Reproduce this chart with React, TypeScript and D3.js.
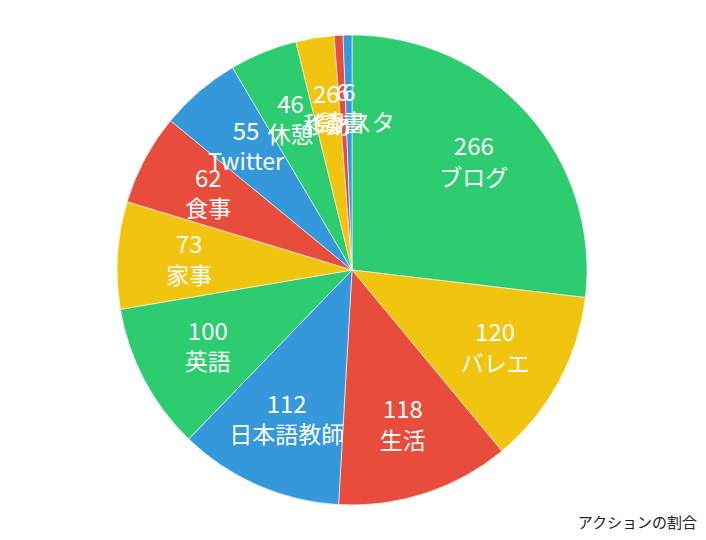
import React, { useEffect, useRef } from 'react';
import * as d3 from 'd3';

const labels = ['ブログ', 'バレエ', '生活', '日本語教師', '英語', '家事', '食事', 'Twitter', '休憩', '移動', '読書', 'インスタ'];
const values = [266, 120, 118, 112, 100, 73, 62, 55, 46, 26, 6, 6];
const palette = ['#2ecc71', '#f1c40f', '#e74c3c', '#3498db'];
const title = 'アクションの割合';

const PieChart = () => {
  const svgRef = useRef<SVGSVGElement>(null);

  useEffect(() => {
    const width = 706;
    const height = 540;
    const cx = 352;
    const cy = 270;
    const radius = 235;

    const svg = d3.select(svgRef.current);
    svg.selectAll('*').remove();
    svg.attr('width', width).attr('height', height);

    const data = labels.map((label, i) => ({ label, value: values[i], i }));

    const pie = d3
      .pie<{ label: string; value: number; i: number }>()
      .value((d) => d.value)
      .sort(null);
    const arcs = pie(data);

    const arc = d3.arc<d3.PieArcDatum<any>>().innerRadius(0).outerRadius(radius);
    const labelArc = d3.arc<d3.PieArcDatum<any>>().innerRadius(163).outerRadius(163);

    const g = svg.append('g').attr('transform', `translate(${cx}, ${cy})`);

    g.selectAll('path')
      .data(arcs)
      .enter()
      .append('path')
      .attr('d', arc)
      .attr('fill', (d) => palette[d.data.i % palette.length])
      .attr('stroke', '#fff')
      .attr('stroke-width', 0.6);

    const font = '"Noto Sans CJK JP", "Noto Sans", sans-serif';
    const labelsG = g.selectAll('g.lbl').data(arcs).enter().append('g').attr('class', 'lbl');
    labelsG.each(function (d) {
      const [x, y] = labelArc.centroid(d);
      const sel = d3.select(this);
      sel
        .append('text')
        .attr('x', x)
        .attr('y', y - 17)
        .attr('text-anchor', 'middle')
        .attr('dominant-baseline', 'central')
        .attr('fill', '#fff')
        .attr('font-size', '24px')
        .attr('font-family', font)
        .text(d.data.value);
      sel
        .append('text')
        .attr('x', x)
        .attr('y', y + 14)
        .attr('text-anchor', 'middle')
        .attr('dominant-baseline', 'central')
        .attr('fill', '#fff')
        .attr('font-size', '23px')
        .attr('font-family', font)
        .text(d.data.label);
    });

    // title (bottom right)
    svg
      .append('text')
      .attr('x', 697)
      .attr('y', 521)
      .attr('text-anchor', 'end')
      .attr('dominant-baseline', 'central')
      .attr('font-size', '15px')
      .attr('font-family', font)
      .attr('fill', '#222')
      .text(title);
  }, []);

  return (
    <div style={{ position: 'absolute', left: 0, top: 0 }}>
      <svg ref={svgRef} style={{ display: 'block' }}></svg>
    </div>
  );
};

export default PieChart;
